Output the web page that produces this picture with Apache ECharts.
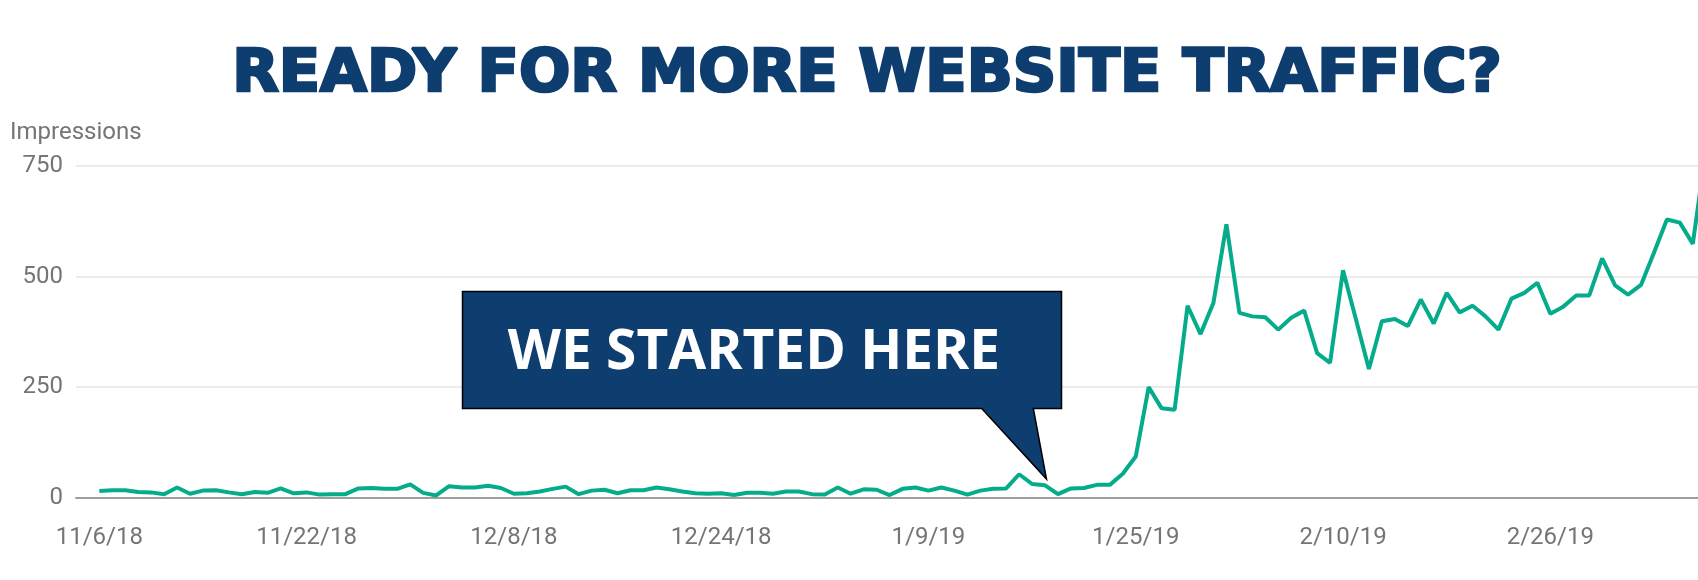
<!DOCTYPE html>
<html>
<head>
<meta charset="utf-8">
<title>Impressions</title>
<script src="https://cdn.jsdelivr.net/npm/echarts@6.0.0/dist/echarts.min.js"></script>
<style>
	html, body { margin: 0; padding: 0; background: #fff; }
	#chart { width: 1698px; height: 580px; }
</style>
</head>
<body>
<div id="chart"></div>
<script>
// daily impressions, starting 11/6/18 (last point runs past the right edge)
var impressions = [
	15, 17, 17, 13, 12, 8, 23, 9, 16, 17, 12, 8, 13, 11, 21, 10,
	12, 7, 8, 8, 21, 22, 20, 20, 30, 11, 5, 26, 23, 23, 27, 22,
	9, 10, 14, 20, 25, 8, 16, 18, 10, 17, 17, 23, 19, 14, 10, 9,
	10, 6, 11, 11, 9, 14, 14, 8, 7, 23, 9, 19, 18, 6, 20, 23,
	16, 23, 16, 7, 16, 20, 21, 53, 31, 28, 8, 21, 22, 29, 29, 54,
	93, 250, 202, 199, 434, 370, 441, 618, 418, 410, 408, 380, 407, 423, 327, 305,
	514, 403, 291, 399, 404, 388, 448, 394, 463, 419, 434, 410, 380, 450, 463, 486,
	416, 432, 457, 457, 541, 480, 459, 481, 554, 629, 622, 574, 785
];
var tickDays = [0, 16, 32, 48, 64, 80, 96, 112];
var tickLabels = ['11/6/18', '11/22/18', '12/8/18', '12/24/18', '1/9/19', '1/25/19', '2/10/19', '2/26/19'];
var yTicks = [0, 250, 500, 750];

var TrafficChart = function () { }

TrafficChart.prototype = {
	navy: '#0e3d6f',
	teal: '#05ac8c',
	grey: '#757575',
	init: function () {
		this.chart = echarts.init(document.getElementById('chart'));
		this.chart.setOption(this.buildOption());
	},
	buildOption: function () {
		var that = this;
		var data = impressions.map(function (v, i) { return [i, v]; });
		return {
			animation: false,
			backgroundColor: '#fff',
			grid: { left: 76, right: 0, top: 166, bottom: 82.3 },
			xAxis: {
				type: 'value',
				min: -1.8,
				max: 123.4,
				splitLine: { show: false },
				axisTick: { show: false },
				axisLine: { show: true, lineStyle: { color: '#9e9e9e', width: 2 } },
				axisLabel: {
					customValues: tickDays,
					margin: 28,
					color: that.grey,
					fontFamily: 'Roboto',
					fontSize: 24,
					formatter: function (v) {
						var k = tickDays.indexOf(v);
						return k < 0 ? '' : tickLabels[k];
					}
				}
			},
			yAxis: {
				type: 'value',
				min: yTicks[0],
				max: yTicks[yTicks.length - 1],
				interval: 250,
				axisLine: { show: false },
				axisTick: { show: false },
				splitLine: { lineStyle: { color: '#ebebeb', width: 2 } },
				axisLabel: {
					margin: 13,
					color: that.grey,
					fontFamily: 'Roboto',
					fontSize: 24
				}
			},
			series: [{
				type: 'line',
				data: data,
				showSymbol: false,
				clip: true,
				lineStyle: { color: that.teal, width: 4 },
				itemStyle: { color: that.teal }
			}],
			graphic: [{
				type: 'text',
				x: 867,
				y: 76,
				scaleX: 1.1,
				scaleY: 1.07,
				style: {
					text: 'READY FOR MORE WEBSITE TRAFFIC?',
					fill: that.navy,
					stroke: that.navy,
					lineWidth: 2.5,
					font: 'bold 55px "DejaVu Sans"',
					textAlign: 'center',
					textVerticalAlign: 'middle'
				}
			}, {
				type: 'text',
				x: 10,
				y: 133,
				style: {
					text: 'Impressions',
					fill: that.grey,
					font: '24px Roboto',
					textAlign: 'left',
					textVerticalAlign: 'middle'
				}
			}, {
				type: 'polygon',
				z: 10,
				shape: {
					points: [[462.5, 291.5], [1061.5, 291.5], [1061.5, 408.5], [1033.3, 408.5],
						[1046.5, 479], [981.7, 408.5], [462.5, 408.5]]
				},
				style: { fill: that.navy, stroke: '#000', lineWidth: 1.5 }
			}, {
				type: 'text',
				z: 11,
				x: 754,
				y: 353,
				style: {
					text: 'WE STARTED HERE',
					fill: '#fff',
					font: 'bold 55px "Open Sans"',
					textAlign: 'center',
					textVerticalAlign: 'middle'
				}
			}]
		};
	}
}

window.onload = function () {
	var trafficChart = new TrafficChart();
	trafficChart.init();
}
</script>
</body>
</html>
